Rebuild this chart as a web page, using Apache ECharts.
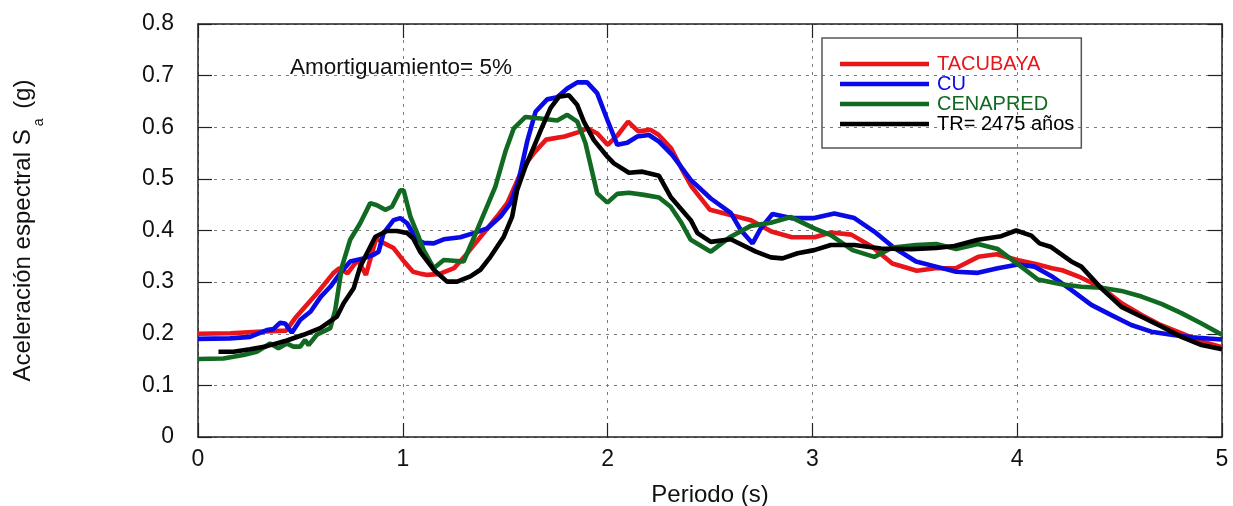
<!DOCTYPE html>
<html>
<head>
<meta charset="utf-8">
<script src="https://cdn.jsdelivr.net/npm/echarts@6/dist/echarts.min.js"></script>
<style>
html,body{margin:0;padding:0;background:#fff;}
#chart{width:1233px;height:506px;}
</style>
</head>
<body>
<div id="chart"></div>
<script>
// Periodo (s), Sa (g)
var tacubaya = [[0,0.200],[0.16,0.201],[0.29,0.204],[0.43,0.206],[0.48,0.233],[0.58,0.278],[0.66,0.317],[0.69,0.327],[0.73,0.317],[0.78,0.343],[0.82,0.314],[0.87,0.385],[0.91,0.375],[0.955,0.366],[1.00,0.343],[1.05,0.320],[1.09,0.316],[1.12,0.314],[1.18,0.316],[1.25,0.327],[1.30,0.349],[1.38,0.388],[1.46,0.427],[1.51,0.453],[1.59,0.524],[1.64,0.550],[1.70,0.576],[1.79,0.582],[1.87,0.592],[1.90,0.598],[1.95,0.588],[2.00,0.566],[2.05,0.585],[2.10,0.611],[2.15,0.592],[2.21,0.595],[2.25,0.585],[2.31,0.559],[2.36,0.521],[2.41,0.485],[2.50,0.440],[2.60,0.430],[2.70,0.420],[2.80,0.398],[2.90,0.387],[3.01,0.387],[3.09,0.396],[3.19,0.392],[3.29,0.369],[3.39,0.336],[3.51,0.322],[3.60,0.327],[3.70,0.327],[3.81,0.349],[3.90,0.354],[4.00,0.343],[4.09,0.335],[4.17,0.327],[4.22,0.323],[4.31,0.309],[4.41,0.290],[4.51,0.259],[4.61,0.236],[4.70,0.217],[4.80,0.201],[4.90,0.185],[5.00,0.174]];
var cu = [[0,0.190],[0.156,0.191],[0.254,0.194],[0.336,0.207],[0.368,0.209],[0.40,0.221],[0.425,0.220],[0.458,0.202],[0.50,0.227],[0.55,0.243],[0.60,0.272],[0.646,0.291],[0.694,0.317],[0.743,0.340],[0.808,0.346],[0.857,0.353],[0.882,0.359],[0.906,0.395],[0.955,0.420],[0.988,0.424],[1.021,0.414],[1.069,0.382],[1.102,0.376],[1.151,0.375],[1.20,0.383],[1.281,0.387],[1.346,0.395],[1.412,0.404],[1.477,0.427],[1.526,0.453],[1.566,0.498],[1.607,0.572],[1.648,0.630],[1.705,0.654],[1.754,0.658],[1.803,0.675],[1.852,0.687],[1.900,0.687],[1.949,0.666],[1.999,0.614],[2.047,0.566],[2.096,0.570],[2.145,0.582],[2.202,0.585],[2.251,0.572],[2.316,0.546],[2.406,0.498],[2.504,0.462],[2.601,0.434],[2.650,0.401],[2.708,0.375],[2.748,0.404],[2.805,0.432],[2.895,0.424],[3.009,0.424],[3.107,0.433],[3.205,0.424],[3.302,0.398],[3.400,0.366],[3.506,0.340],[3.604,0.330],[3.702,0.320],[3.808,0.318],[3.905,0.327],[4.003,0.334],[4.085,0.330],[4.166,0.312],[4.264,0.285],[4.362,0.256],[4.460,0.236],[4.557,0.217],[4.655,0.204],[4.753,0.198],[4.851,0.193],[5.0,0.189]];
var cenapred = [[0,0.151],[0.124,0.152],[0.222,0.159],[0.287,0.165],[0.352,0.181],[0.393,0.172],[0.434,0.181],[0.466,0.175],[0.499,0.175],[0.523,0.188],[0.540,0.178],[0.580,0.198],[0.646,0.211],[0.670,0.246],[0.703,0.330],[0.743,0.382],[0.792,0.414],[0.841,0.453],[0.874,0.449],[0.914,0.440],[0.947,0.446],[0.988,0.478],[1.004,0.478],[1.037,0.427],[1.07,0.395],[1.102,0.362],[1.151,0.327],[1.20,0.343],[1.297,0.340],[1.363,0.401],[1.452,0.485],[1.501,0.553],[1.542,0.598],[1.599,0.620],[1.672,0.617],[1.754,0.613],[1.803,0.624],[1.852,0.611],[1.892,0.569],[1.949,0.472],[1.999,0.454],[2.047,0.471],[2.104,0.473],[2.178,0.469],[2.251,0.464],[2.308,0.446],[2.357,0.417],[2.406,0.382],[2.504,0.359],[2.601,0.388],[2.699,0.409],[2.797,0.415],[2.895,0.426],[3.009,0.404],[3.09,0.391],[3.196,0.362],[3.302,0.349],[3.392,0.367],[3.506,0.372],[3.604,0.374],[3.702,0.364],[3.808,0.374],[3.905,0.364],[4.003,0.335],[4.101,0.305],[4.215,0.296],[4.313,0.291],[4.411,0.289],[4.509,0.283],[4.607,0.272],[4.704,0.258],[4.802,0.240],[4.900,0.220],[5.0,0.198]];
var tr2475 = [[0.1,0.165],[0.173,0.165],[0.254,0.170],[0.336,0.176],[0.434,0.187],[0.515,0.198],[0.597,0.211],[0.678,0.233],[0.711,0.259],[0.760,0.288],[0.792,0.330],[0.825,0.356],[0.866,0.388],[0.923,0.399],[0.972,0.399],[1.021,0.395],[1.05,0.385],[1.086,0.358],[1.151,0.324],[1.216,0.301],[1.265,0.301],[1.330,0.311],[1.379,0.324],[1.428,0.349],[1.493,0.388],[1.534,0.427],[1.558,0.478],[1.599,0.524],[1.640,0.562],[1.681,0.601],[1.721,0.637],[1.762,0.659],[1.811,0.662],[1.852,0.643],[1.884,0.611],[1.933,0.575],[1.999,0.543],[2.031,0.530],[2.104,0.512],[2.170,0.514],[2.251,0.506],[2.308,0.465],[2.406,0.420],[2.439,0.395],[2.504,0.378],[2.601,0.383],[2.724,0.359],[2.797,0.348],[2.854,0.346],[2.928,0.356],[3.009,0.362],[3.09,0.372],[3.205,0.372],[3.335,0.365],[3.482,0.364],[3.604,0.366],[3.694,0.370],[3.808,0.382],[3.922,0.389],[3.995,0.400],[4.069,0.390],[4.109,0.375],[4.166,0.368],[4.264,0.340],[4.313,0.330],[4.411,0.288],[4.509,0.252],[4.607,0.233],[4.704,0.214],[4.802,0.194],[4.900,0.178],[5.0,0.170]];

var seriesNames = ['TACUBAYA', 'CU', 'CENAPRED', 'TR= 2475 años'];
var seriesData = [tacubaya, cu, cenapred, tr2475];
var seriesColors = ['#e8161b', '#0a0ae6', '#126a22', '#000000'];
var xTitle = 'Periodo (s)';
var note = 'Amortiguamiento= 5%';

var FONT = '"Liberation Sans", Arial, sans-serif';
var chart = echarts.init(document.getElementById('chart'), null, {renderer: 'canvas'});

var splitStyle = {show: true, lineStyle: {color: '#7a7a7a', type: [3, 5], width: 1}};
var frameLine = {show: true, onZero: false, lineStyle: {color: '#222', width: 1.5}};
var inTick = {show: true, inside: true, length: 14, lineStyle: {color: '#222', width: 1.2}};

var option = {
  backgroundColor: '#fff',
  animation: false,
  grid: {left: 198, right: 11, top: 24, bottom: 69, containLabel: false, outerBoundsMode: 'none'},
  legend: {
    orient: 'vertical',
    left: 822, top: 38,
    padding: [16, 7, 14, 18],
    borderColor: '#555', borderWidth: 1.5,
    icon: 'rect',
    itemWidth: 89, itemHeight: 4.5, itemGap: 0,
    textStyle: {fontFamily: FONT, fontSize: 20, lineHeight: 20, padding: [0, 0, 0, 3]},
    data: seriesNames.map(function (n, i) {
      return {name: n, itemStyle: {color: seriesColors[i]}, textStyle: {color: seriesColors[i]}};
    })
  },
  xAxis: [{
    type: 'value', min: 0, max: 5, interval: 1,
    position: 'bottom',
    axisLine: frameLine, axisTick: inTick, splitLine: splitStyle,
    axisLabel: {fontFamily: FONT, fontSize: 23, color: '#111', margin: 11},
    name: xTitle, nameLocation: 'middle', nameGap: 46,
    nameTextStyle: {fontFamily: FONT, fontSize: 24, color: '#111'}
  }, {
    type: 'value', min: 0, max: 5, interval: 1,
    position: 'top',
    axisLine: frameLine, axisTick: inTick, splitLine: {show: false},
    axisLabel: {show: false}
  }],
  yAxis: [{
    type: 'value', min: 0, max: 0.8, interval: 0.1,
    position: 'left',
    axisLine: frameLine, axisTick: inTick, splitLine: splitStyle,
    axisLabel: {fontFamily: FONT, fontSize: 23, color: '#111', margin: 24,
      formatter: function (v) { return v === 0 ? '0' : v.toFixed(1); }},
    name: '{t|Aceleración espectral S}{s|a}{t| (g)}',
    nameLocation: 'middle', nameGap: 152,
    nameTextStyle: {
      rich: {
        t: {fontFamily: FONT, fontSize: 24, color: '#111', lineHeight: 26, verticalAlign: 'top'},
        s: {fontFamily: FONT, fontSize: 14, color: '#111', lineHeight: 35, verticalAlign: 'bottom', padding: [0, 3, 0, 3]}
      }
    }
  }, {
    type: 'value', min: 0, max: 0.8, interval: 0.1,
    position: 'right',
    axisLine: frameLine, axisTick: inTick, splitLine: {show: false},
    axisLabel: {show: false}
  }],
  graphic: [{
    type: 'text', left: 290, top: 56,
    style: {text: note, fontFamily: FONT, fontSize: 22.5, fill: '#111'}
  }],
  series: seriesNames.map(function (n, i) {
    return {
      name: n, type: 'line', data: seriesData[i],
      xAxisIndex: 0, yAxisIndex: 0,
      showSymbol: false, symbol: 'none', smooth: false,
      lineStyle: {color: seriesColors[i], width: 4.6},
      itemStyle: {color: seriesColors[i]},
      z: 3 + i
    };
  })
};
chart.setOption(option);
</script>
</body>
</html>
